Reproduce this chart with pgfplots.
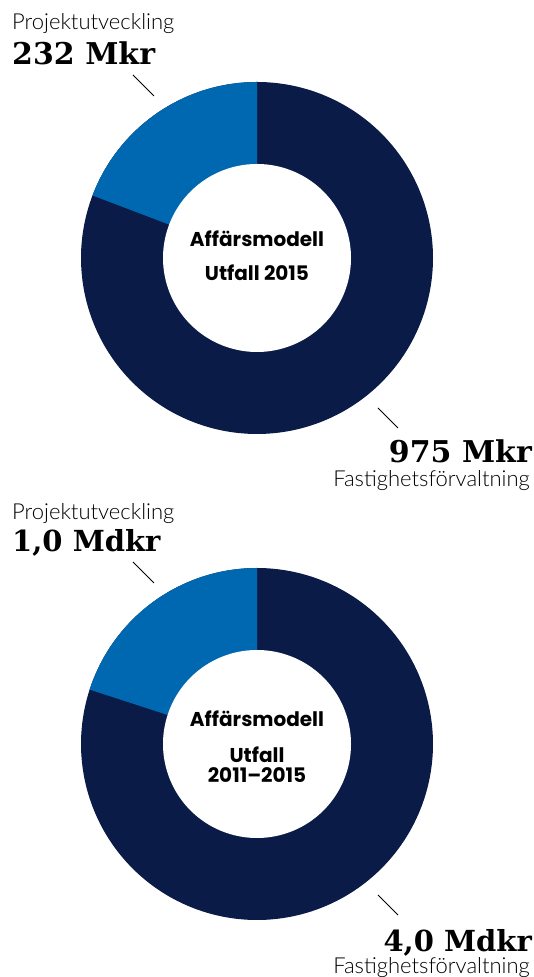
\documentclass[border=0pt]{standalone}
\usepackage{pgfplots}
\pgfplotsset{compat=1.18}
\usepackage{fontspec}
\setmainfont{Lato}
\newfontfamily\lightf{Lato Light}
\newfontfamily\popf{Poppins}
\newfontfamily\serifb{DejaVu Serif}[BoldFont={* Bold}]
\definecolor{navy}{HTML}{0A1B47}
\definecolor{pblue}{HTML}{0068B0}
% data
\def\projA{232}\def\fastA{975}
\def\projB{1.0}\def\fastB{4.0}
\begin{document}
\begin{tikzpicture}
\path[use as bounding box] (0,0) rectangle (534pt,977pt);
\pgfmathsetmacro{\fracA}{\projA/(\projA+\fastA)}
\pgfmathsetmacro{\fracB}{\projB/(\projB+\fastB)}
\pgfmathsetmacro{\angA}{90+360*\fracA}
\pgfmathsetmacro{\angB}{90+360*\fracB}
\begin{axis}[at={(0,0)}, anchor=origin, x=1pt, y=1pt,
  xmin=0, xmax=534, ymin=0, ymax=977, hide axis, clip=false]
% donut 1
\addplot[draw=none, fill=navy, domain=0:360, samples=241] ({257+176*cos(x)},{719+176*sin(x)}) -- cycle;
\addplot[draw=none, fill=pblue, domain=90:\angA, samples=80] ({257+176*cos(x)},{719+176*sin(x)}) -- (axis cs:257,719) -- cycle;
\addplot[draw=none, fill=white, domain=0:360, samples=241] ({257+94*cos(x)},{719+94*sin(x)}) -- cycle;
% donut 2
\addplot[draw=none, fill=navy, domain=0:360, samples=241] ({257+176*cos(x)},{233+176*sin(x)}) -- cycle;
\addplot[draw=none, fill=pblue, domain=90:\angB, samples=80] ({257+176*cos(x)},{233+176*sin(x)}) -- (axis cs:257,233) -- cycle;
\addplot[draw=none, fill=white, domain=0:360, samples=241] ({257+94*cos(x)},{233+94*sin(x)}) -- cycle;
% leader lines
\addplot[black, line width=1pt] coordinates {(133,902) (154,881)};
\addplot[black, line width=1pt] coordinates {(378,569) (398,549)};
\addplot[black, line width=1pt] coordinates {(133,415) (154,394)};
\addplot[black, line width=1pt] coordinates {(378,82) (398,62)};
% labels
\node[anchor=base west, inner sep=0pt] at (axis cs:12,947) {\lightf\fontsize{22pt}{26pt}\selectfont Projektutveckling};
\node[anchor=base west, inner sep=0pt] at (axis cs:12,912) {\serifb\bfseries\fontsize{30pt}{36pt}\selectfont 232 Mkr};
\node[anchor=base east, inner sep=0pt] at (axis cs:532,514) {\serifb\bfseries\fontsize{30pt}{36pt}\selectfont 975 Mkr};
\node[anchor=base east, inner sep=0pt] at (axis cs:530,490) {\lightf\fontsize{22pt}{26pt}\selectfont Fastighetsförvaltning};
\node[anchor=base, inner sep=0pt] at (axis cs:257,730) {\popf\bfseries\fontsize{20pt}{24pt}\selectfont Affärsmodell};
\node[anchor=base, inner sep=0pt] at (axis cs:257,696) {\popf\bfseries\fontsize{20pt}{24pt}\selectfont Utfall 2015};
\node[anchor=base west, inner sep=0pt] at (axis cs:12,457) {\lightf\fontsize{22pt}{26pt}\selectfont Projektutveckling};
\node[anchor=base west, inner sep=0pt] at (axis cs:12,425) {\serifb\bfseries\fontsize{29pt}{35pt}\selectfont 1,0 Mdkr};
\node[anchor=base east, inner sep=0pt] at (axis cs:532,25) {\serifb\bfseries\fontsize{29pt}{35pt}\selectfont 4,0 Mdkr};
\node[anchor=base east, inner sep=0pt] at (axis cs:530,3) {\lightf\fontsize{22pt}{26pt}\selectfont Fastighetsförvaltning};
\node[anchor=base, inner sep=0pt] at (axis cs:257,250) {\popf\bfseries\fontsize{20pt}{24pt}\selectfont Affärsmodell};
\node[anchor=base, inner sep=0pt] at (axis cs:257,214) {\popf\bfseries\fontsize{20pt}{24pt}\selectfont Utfall};
\node[anchor=base, inner sep=0pt] at (axis cs:257,194) {\popf\bfseries\fontsize{20pt}{24pt}\selectfont 2011–2015};
\end{axis}
\end{tikzpicture}
\end{document}
